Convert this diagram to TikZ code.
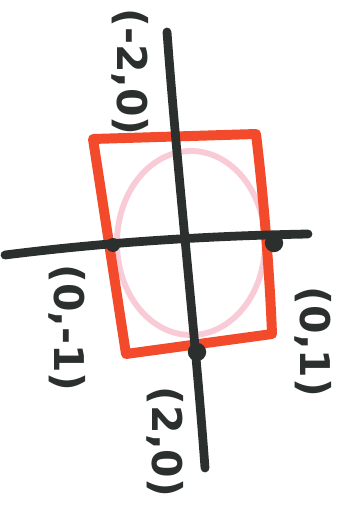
\documentclass[tikz,border=0pt]{standalone}
\usepackage{fontspec}
\setmainfont{DejaVu Sans}
\definecolor{marker}{HTML}{2B302F}
\definecolor{redpen}{HTML}{F24A2A}
\definecolor{pinkpen}{HTML}{F9CBD7}
\tikzset{
  lbl/.style={rotate=-90, font=\bfseries\fontsize{35}{35}\selectfont, text=marker, inner sep=0pt},
  dot/.style={circle, fill=marker, inner sep=0pt, minimum size=#1},
  dot/.default=0.5cm
}
\begin{document}
\begin{tikzpicture}[x=0.03cm, y=-0.03cm, line cap=round, line join=round]
\useasboundingbox (0,0) rectangle (361,505);
\fill[white] (0,0) rectangle (361,505);

% ellipse and box
\draw[pinkpen, line width=5pt] (191,243) ellipse [x radius=74, y radius=92];
\draw[redpen, line width=8.5pt] (93,139) -- (256,134) .. controls (264,200) and (270,280) .. (272,334) -- (126,354) -- cycle;

% axes
\coordinate (ytop) at (167,32);
\coordinate (ybot) at (205,468);
\coordinate (xl) at (5,255);
\coordinate (xr) at (308,234);
\draw[marker, line width=7.5pt] (ytop) .. controls (178,180) and (195,330) .. (ybot);
\draw[marker, line width=7.5pt] (xl) .. controls (100,243) and (200,236) .. (xr);

% points
\node[dot=0.42cm] (pl) at (113,245) {};
\node[dot=0.55cm] (pr) at (274,243) {};
\node[dot=0.55cm] (pb) at (197,352) {};

\node[lbl] (top) at (130,72) {(-2,0)};
\node[lbl] (left) at (67,328) {(0,-1)};
\node[lbl] (right) at (313,342) {(0,1)};
\node[lbl] (bot) at (165,442) {(2,0)};
\end{tikzpicture}
\end{document}
